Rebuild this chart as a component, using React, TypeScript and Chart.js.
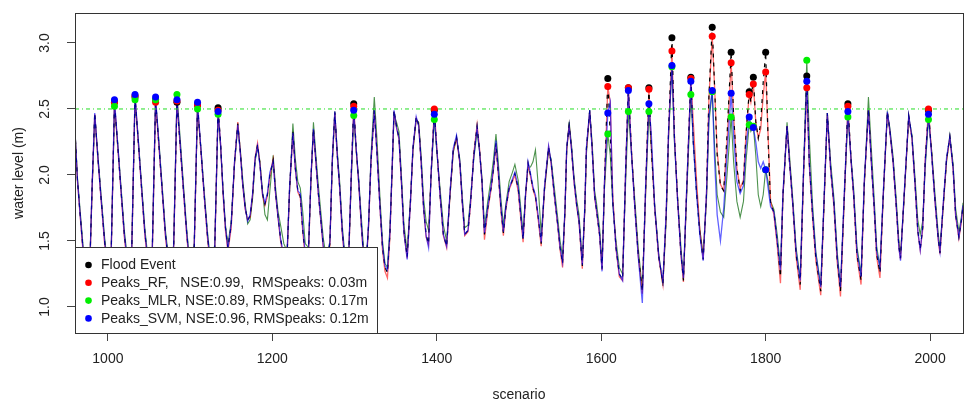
import React, { useEffect, useRef } from "react";
import { Chart, registerables } from "chart.js";

Chart.register(...registerables);

// ---------------- data ----------------
const scenario = [
  960, 963, 966, 970, 974, 978, 981, 984,
  988, 992, 996, 1000, 1004, 1008,
  1012, 1016, 1020, 1025, 1029, 1033,
  1037, 1041, 1045, 1050, 1054, 1058,
  1062, 1066, 1070, 1075, 1080, 1084,
  1088, 1092, 1096, 1100, 1105, 1109,
  1113, 1117, 1121, 1125, 1130, 1134,
  1137, 1140, 1143, 1146, 1150, 1154, 1158,
  1161, 1164, 1167, 1170, 1173, 1176, 1179, 1182,
  1185, 1188, 1191, 1194, 1197, 1201,
  1204, 1207, 1210, 1214, 1218, 1221, 1225,
  1228, 1231, 1234, 1237, 1240, 1244, 1247, 1250,
  1253, 1256, 1259, 1262, 1266, 1270, 1273, 1276,
  1279, 1282, 1285, 1289, 1293, 1296, 1299,
  1302, 1305, 1308, 1311, 1314, 1317, 1320, 1324,
  1327, 1331, 1334, 1337, 1340, 1343, 1346, 1348,
  1351, 1354, 1357, 1360, 1364, 1368, 1371, 1375,
  1378, 1381, 1384, 1387, 1390, 1393, 1397,
  1400, 1404, 1408, 1412, 1416, 1420, 1424,
  1428, 1431, 1434, 1438, 1441, 1445, 1449,
  1452, 1455, 1458, 1462, 1466, 1469, 1472,
  1475, 1478, 1481, 1484, 1488, 1492, 1495,
  1499, 1502, 1505, 1508, 1511,
  1514, 1517, 1520, 1523, 1527, 1531, 1536,
  1539, 1543, 1547, 1550, 1553, 1556, 1558, 1561,
  1564, 1567, 1570, 1573, 1577, 1580, 1582, 1586,
  1589, 1592, 1594, 1598, 1601, 1604, 1608,
  1611, 1614, 1618, 1622, 1626, 1630, 1633,
  1637, 1641, 1645, 1650, 1654, 1658,
  1661, 1665, 1670, 1675, 1679, 1682, 1686,
  1689, 1693, 1697, 1700, 1704, 1709,
  1712, 1716, 1720, 1724, 1728, 1731, 1735,
  1738, 1741, 1745, 1749, 1753, 1758,
  1761, 1765, 1769, 1773, 1776, 1780, 1782, 1785,
  1788, 1791, 1794, 1797, 1800,
  1803, 1806, 1810, 1814, 1818, 1821, 1826,
  1829, 1833, 1837, 1842, 1846, 1850,
  1853, 1857, 1861, 1867, 1871, 1875,
  1879, 1883, 1887, 1891, 1896, 1900,
  1904, 1907, 1911, 1916, 1920, 1925,
  1929, 1932, 1935, 1939, 1943, 1948,
  1951, 1955, 1959, 1962, 1964, 1968, 1974,
  1978, 1982, 1985, 1988, 1991, 1994, 1998,
  2002, 2006, 2010, 2012, 2016, 2020, 2024,
  2028, 2031, 2035, 2038, 2040,
];

const observed = [
  2.33, 1.96, 1.72, 1.42, 1.22, 1.30, 1.95, 2.47,
  2.12, 1.80, 1.50, 1.25, 1.40, 2.55,
  2.22, 1.88, 1.55, 1.26, 1.42, 2.59,
  2.25, 1.90, 1.56, 1.27, 1.42, 2.57,
  2.23, 1.89, 1.55, 1.27, 1.45, 2.55,
  2.22, 1.88, 1.55, 1.28, 1.45, 2.53,
  2.20, 1.86, 1.55, 1.30, 1.45, 2.51,
  2.25, 1.88, 1.60, 1.45, 1.62, 2.10, 2.39,
  2.18, 1.93, 1.75, 1.66, 1.69, 1.85, 2.12, 2.23,
  2.08, 1.86, 1.78, 1.85, 2.00, 2.11,
  1.86, 1.68, 1.52, 1.38, 1.40, 1.90, 2.33,
  2.05, 1.88, 1.84, 1.58, 1.40, 1.42, 1.98, 2.35,
  2.10, 1.86, 1.66, 1.46, 1.32, 1.48, 2.12, 2.48,
  2.15, 1.90, 1.58, 1.30, 1.40, 2.00, 2.54,
  2.20, 1.95, 1.65, 1.38, 1.30, 1.62, 2.10, 2.49,
  2.20, 1.75, 1.45, 1.30, 1.26, 1.55, 2.10, 2.49,
  2.37, 2.28, 1.95, 1.58, 1.38, 1.80, 2.20, 2.44,
  2.38, 2.10, 1.75, 1.55, 1.48, 2.00, 2.49,
  2.20, 1.85, 1.55, 1.46, 1.85, 2.19, 2.29,
  2.10, 1.80, 1.55, 1.58, 1.78, 2.15, 2.37,
  2.19, 1.95, 1.55, 1.75, 1.90, 2.05, 2.24,
  2.00, 1.75, 1.56, 1.75, 1.90, 1.96, 2.01,
  1.90, 1.70, 1.51, 1.85, 2.09,
  2.00, 1.90, 1.84, 1.70, 1.48, 1.90, 2.21,
  2.10, 1.85, 1.63, 1.45, 1.33, 1.75, 2.20, 2.38,
  2.19, 1.95, 1.78, 1.65, 1.31, 1.75, 2.20, 2.49,
  2.20, 1.84, 1.75, 1.55, 1.29, 1.95, 2.73,
  2.30, 1.80, 1.45, 1.25, 1.21, 2.10, 2.66,
  2.15, 1.75, 1.40, 1.12, 1.90, 2.66,
  2.20, 1.75, 1.38, 1.18, 1.70, 2.35, 3.04,
  2.30, 1.80, 1.40, 1.20, 1.90, 2.74,
  2.25, 1.86, 1.55, 1.36, 1.85, 2.60, 3.12,
  2.65, 2.15, 1.92, 1.88, 2.30, 2.93,
  2.45, 2.05, 1.88, 1.95, 2.30, 2.63, 2.55, 2.74,
  2.40, 2.28, 2.40, 2.70, 2.93,
  2.25, 1.78, 1.72, 1.50, 1.23, 1.85, 2.37,
  2.10, 1.78, 1.40, 1.17, 2.00, 2.75,
  2.10, 1.70, 1.37, 1.12, 1.80, 2.47,
  2.05, 1.78, 1.36, 1.12, 1.90, 2.54,
  2.10, 1.85, 1.40, 1.20, 1.95, 2.50,
  2.05, 1.75, 1.40, 1.26, 1.85, 2.48,
  2.34, 2.10, 1.75, 1.46, 1.37, 1.80, 2.45,
  2.28, 1.90, 1.58, 1.44, 1.60, 2.10, 2.49,
  2.15, 1.80, 1.51, 1.41, 1.78, 2.12, 2.29,
  2.05, 1.70, 1.53, 1.65, 1.77,
];

const predRF = [
  2.32, 1.95, 1.71, 1.40, 1.20, 1.29, 1.94, 2.46,
  2.11, 1.79, 1.48, 1.23, 1.39, 2.55,
  2.21, 1.87, 1.53, 1.24, 1.41, 2.60,
  2.24, 1.89, 1.54, 1.25, 1.41, 2.55,
  2.22, 1.88, 1.53, 1.25, 1.44, 2.56,
  2.21, 1.87, 1.53, 1.26, 1.44, 2.53,
  2.19, 1.85, 1.53, 1.28, 1.44, 2.49,
  2.24, 1.86, 1.58, 1.42, 1.60, 2.09, 2.40,
  2.18, 1.92, 1.74, 1.66, 1.68, 1.85, 2.13, 2.24,
  2.08, 1.85, 1.77, 1.84, 1.99, 2.12,
  1.85, 1.67, 1.50, 1.36, 1.39, 1.89, 2.31,
  2.04, 1.87, 1.83, 1.57, 1.38, 1.41, 1.97, 2.34,
  2.09, 1.85, 1.65, 1.44, 1.30, 1.47, 2.11, 2.47,
  2.14, 1.89, 1.56, 1.28, 1.39, 1.99, 2.52,
  2.19, 1.94, 1.63, 1.36, 1.28, 1.61, 2.09, 2.48,
  2.20, 1.74, 1.43, 1.27, 1.22, 1.53, 2.09, 2.48,
  2.36, 2.27, 1.94, 1.56, 1.37, 1.79, 2.19, 2.43,
  2.38, 2.09, 1.74, 1.53, 1.47, 1.99, 2.50,
  2.21, 1.84, 1.54, 1.45, 1.84, 2.18, 2.28,
  2.09, 1.79, 1.54, 1.57, 1.77, 2.16, 2.38,
  2.20, 1.94, 1.51, 1.73, 1.89, 2.04, 2.23,
  1.99, 1.73, 1.54, 1.74, 1.89, 1.95, 2.00,
  1.88, 1.68, 1.49, 1.84, 2.08,
  1.99, 1.89, 1.83, 1.68, 1.46, 1.89, 2.21,
  2.09, 1.84, 1.62, 1.43, 1.30, 1.74, 2.19, 2.38,
  2.18, 1.94, 1.77, 1.64, 1.29, 1.74, 2.19, 2.48,
  2.20, 1.83, 1.74, 1.54, 1.28, 1.94, 2.67,
  2.55, 1.85, 1.44, 1.23, 1.20, 2.10, 2.66,
  2.16, 1.74, 1.39, 1.10, 1.88, 2.65,
  2.22, 1.75, 1.37, 1.17, 1.70, 2.33, 2.94,
  2.30, 1.80, 1.39, 1.19, 1.90, 2.73,
  2.40, 1.95, 1.58, 1.36, 1.85, 2.58, 3.05,
  2.65, 2.18, 1.93, 1.88, 2.25, 2.85,
  2.45, 2.05, 1.90, 1.96, 2.30, 2.61, 2.55, 2.69,
  2.40, 2.28, 2.35, 2.60, 2.78,
  2.30, 1.80, 1.70, 1.47, 1.18, 1.84, 2.37,
  2.10, 1.77, 1.38, 1.13, 1.98, 2.66,
  2.08, 1.68, 1.35, 1.09, 1.78, 2.46,
  2.04, 1.76, 1.34, 1.08, 1.88, 2.52,
  2.09, 1.84, 1.38, 1.17, 1.94, 2.49,
  2.04, 1.74, 1.38, 1.22, 1.84, 2.47,
  2.33, 2.09, 1.74, 1.45, 1.36, 1.79, 2.44,
  2.27, 1.89, 1.57, 1.43, 1.59, 2.11, 2.50,
  2.15, 1.79, 1.50, 1.40, 1.77, 2.11, 2.28,
  2.04, 1.69, 1.52, 1.64, 1.76,
];

const predMLR = [
  2.34, 1.98, 1.75, 1.45, 1.25, 1.33, 1.92, 2.45,
  2.14, 1.83, 1.53, 1.28, 1.42, 2.52,
  2.24, 1.91, 1.58, 1.29, 1.44, 2.57,
  2.27, 1.93, 1.59, 1.30, 1.44, 2.57,
  2.26, 1.92, 1.58, 1.30, 1.47, 2.61,
  2.27, 1.92, 1.58, 1.31, 1.47, 2.50,
  2.22, 1.89, 1.58, 1.33, 1.47, 2.46,
  2.22, 1.90, 1.62, 1.47, 1.65, 2.08, 2.37,
  2.20, 1.97, 1.78, 1.63, 1.66, 1.82, 2.10, 2.21,
  2.10, 1.88, 1.70, 1.66, 1.88, 2.15,
  1.90, 1.72, 1.62, 1.48, 1.42, 1.88, 2.39,
  2.12, 1.95, 1.90, 1.72, 1.48, 1.45, 1.96, 2.40,
  2.15, 1.92, 1.72, 1.52, 1.36, 1.50, 2.10, 2.47,
  2.18, 1.94, 1.62, 1.34, 1.42, 1.95, 2.45,
  2.18, 1.98, 1.70, 1.44, 1.34, 1.60, 2.15, 2.59,
  2.30, 1.82, 1.50, 1.33, 1.30, 1.60, 2.08, 2.46,
  2.40, 2.33, 2.00, 1.63, 1.42, 1.82, 2.18, 2.42,
  2.40, 2.15, 1.82, 1.65, 1.58, 1.98, 2.42,
  2.18, 1.90, 1.62, 1.50, 1.83, 2.17, 2.28,
  2.12, 1.84, 1.60, 1.62, 1.82, 2.12, 2.33,
  2.18, 1.98, 1.60, 1.80, 1.97, 2.12, 2.31,
  2.08, 1.82, 1.62, 1.78, 1.95, 2.02, 2.08,
  1.96, 1.76, 1.56, 1.86, 2.06,
  2.06, 2.10, 2.19, 1.95, 1.55, 1.88, 2.19,
  2.12, 1.90, 1.68, 1.50, 1.38, 1.73, 2.18, 2.40,
  2.22, 1.98, 1.82, 1.70, 1.35, 1.72, 2.16, 2.49,
  2.24, 1.88, 1.80, 1.60, 1.33, 1.90, 2.31,
  2.15, 1.78, 1.50, 1.30, 1.25, 2.00, 2.48,
  2.15, 1.80, 1.45, 1.13, 1.85, 2.48,
  2.20, 1.78, 1.40, 1.16, 1.65, 2.30, 2.82,
  2.25, 1.82, 1.45, 1.22, 1.85, 2.61,
  2.25, 1.88, 1.58, 1.40, 1.80, 2.40, 2.63,
  2.20, 1.85, 1.72, 1.68, 2.00, 2.44,
  2.10, 1.80, 1.68, 1.80, 2.10, 2.38, 2.33, 2.37,
  2.15, 1.85, 1.76, 1.85, 2.04,
  1.95, 1.80, 1.74, 1.55, 1.30, 1.82, 2.40,
  2.15, 1.82, 1.45, 1.22, 2.00, 2.87,
  2.30, 1.78, 1.42, 1.16, 1.78, 2.47,
  2.10, 1.83, 1.42, 1.15, 1.88, 2.44,
  2.12, 1.90, 1.46, 1.25, 1.92, 2.59,
  2.15, 1.82, 1.46, 1.30, 1.83, 2.47,
  2.36, 2.14, 1.80, 1.50, 1.40, 1.78, 2.44,
  2.30, 1.95, 1.66, 1.55, 1.65, 2.05, 2.42,
  2.18, 1.85, 1.55, 1.45, 1.76, 2.10, 2.30,
  2.08, 1.75, 1.57, 1.68, 1.79,
];

const predSVM = [
  2.33, 1.96, 1.72, 1.42, 1.23, 1.31, 1.96, 2.47,
  2.12, 1.80, 1.50, 1.26, 1.41, 2.57,
  2.23, 1.88, 1.55, 1.27, 1.43, 2.61,
  2.26, 1.90, 1.56, 1.28, 1.43, 2.59,
  2.24, 1.89, 1.55, 1.28, 1.46, 2.57,
  2.23, 1.88, 1.55, 1.29, 1.46, 2.55,
  2.21, 1.86, 1.55, 1.31, 1.46, 2.48,
  2.24, 1.88, 1.60, 1.44, 1.63, 2.10, 2.38,
  2.17, 1.93, 1.75, 1.65, 1.70, 1.86, 2.12, 2.22,
  2.07, 1.86, 1.79, 1.86, 2.02, 2.10,
  1.86, 1.68, 1.52, 1.38, 1.41, 1.91, 2.32,
  2.05, 1.88, 1.86, 1.60, 1.41, 1.43, 1.99, 2.35,
  2.10, 1.86, 1.66, 1.46, 1.33, 1.49, 2.13, 2.48,
  2.15, 1.90, 1.58, 1.31, 1.41, 2.01, 2.49,
  2.20, 1.95, 1.65, 1.38, 1.31, 1.63, 2.11, 2.49,
  2.19, 1.75, 1.46, 1.31, 1.28, 1.56, 2.12, 2.49,
  2.36, 2.28, 1.95, 1.57, 1.36, 1.80, 2.21, 2.44,
  2.37, 2.10, 1.75, 1.54, 1.45, 2.00, 2.46,
  2.20, 1.85, 1.55, 1.46, 1.86, 2.20, 2.30,
  2.10, 1.80, 1.55, 1.58, 1.79, 2.14, 2.36,
  2.18, 1.95, 1.56, 1.76, 1.91, 2.06, 2.26,
  2.02, 1.76, 1.57, 1.76, 1.90, 1.97, 2.02,
  1.91, 1.71, 1.52, 1.86, 2.10,
  2.01, 1.91, 1.85, 1.71, 1.49, 1.91, 2.22,
  2.10, 1.85, 1.63, 1.45, 1.34, 1.76, 2.21, 2.37,
  2.19, 1.95, 1.78, 1.65, 1.32, 1.76, 2.21, 2.49,
  2.19, 1.84, 1.75, 1.55, 1.27, 1.96, 2.47,
  2.55, 1.80, 1.45, 1.25, 1.20, 2.10, 2.64,
  2.14, 1.74, 1.38, 1.03, 1.92, 2.54,
  2.30, 1.76, 1.38, 1.19, 1.72, 2.35, 2.83,
  2.28, 1.79, 1.40, 1.22, 1.91, 2.71,
  2.24, 1.85, 1.54, 1.35, 1.86, 2.45, 2.64,
  2.10, 1.70, 1.50, 1.75, 2.15, 2.62,
  2.30, 1.95, 1.86, 1.92, 2.20, 2.44, 2.38, 2.36,
  2.25, 2.10, 2.05, 2.10, 2.04,
  1.90, 1.76, 1.72, 1.50, 1.28, 1.86, 2.37,
  2.10, 1.78, 1.42, 1.20, 2.02, 2.71,
  2.10, 1.72, 1.40, 1.15, 1.82, 2.47,
  2.05, 1.79, 1.38, 1.15, 1.92, 2.48,
  2.10, 1.86, 1.42, 1.23, 1.97, 2.49,
  2.05, 1.76, 1.42, 1.30, 1.86, 2.48,
  2.34, 2.10, 1.75, 1.45, 1.35, 1.81, 2.45,
  2.28, 1.90, 1.58, 1.43, 1.61, 2.09, 2.46,
  2.14, 1.80, 1.51, 1.42, 1.79, 2.13, 2.29,
  2.05, 1.70, 1.53, 1.66, 1.77,
];

// flood events (observed peaks above threshold) and model peaks at those events
const floodX = [1008, 1033, 1058, 1084, 1109, 1134, 1299, 1397, 1608, 1633, 1658,
  1686, 1709, 1735, 1758, 1780, 1785, 1800, 1850, 1900, 1998];
const floodObs = [2.55, 2.59, 2.57, 2.55, 2.53, 2.51, 2.54, 2.49, 2.73, 2.66, 2.66,
  3.04, 2.74, 3.12, 2.93, 2.63, 2.74, 2.93, 2.75, 2.54, 2.49];
const peaksRF = [2.55, 2.60, 2.55, 2.56, 2.53, 2.49, 2.52, 2.50, 2.67, 2.66, 2.65,
  2.94, 2.73, 3.05, 2.85, 2.61, 2.69, 2.78, 2.66, 2.52, 2.50];
const peaksMLR = [2.52, 2.57, 2.57, 2.61, 2.50, 2.46, 2.45, 2.42, 2.31, 2.48, 2.48,
  2.82, 2.61, 2.63, 2.44, 2.38, 2.37, 2.04, 2.87, 2.44, 2.42];
const peaksSVM = [2.57, 2.61, 2.59, 2.57, 2.55, 2.48, 2.49, 2.46, 2.47, 2.64, 2.54,
  2.83, 2.71, 2.64, 2.62, 2.44, 2.36, 2.04, 2.71, 2.48, 2.46];

const thresholdLevel = 2.5;
const xTicks = [1000, 1200, 1400, 1600, 1800, 2000];
const yTicks = [1.0, 1.5, 2.0, 2.5, 3.0];
const legendLabels = [
  "Flood Event",
  "Peaks_RF,   NSE:0.99,  RMSpeaks: 0.03m",
  "Peaks_MLR, NSE:0.89, RMSpeaks: 0.17m",
  "Peaks_SVM, NSE:0.96, RMSpeaks: 0.12m",
];
const legendColors = ["#000000", "#ff0000", "#00ee00", "#0000ff"];

// ---------------- helpers ----------------
const FONT = '"Liberation Sans", Arial, sans-serif';
const xy = (xs: number[], ys: number[]) => {
  const n = Math.min(xs.length, ys.length);
  const out: { x: number; y: number }[] = [];
  for (let i = 0; i < n; i++) out.push({ x: xs[i], y: ys[i] });
  return out;
};

const framePlugin = {
  id: "rFrameLegend",
  afterDraw(chart: any) {
    const { ctx, chartArea: ca } = chart;
    ctx.save();
    // legend box
    const W = 302, H = 86;
    const L = ca.left, T = ca.bottom - H;
    ctx.fillStyle = "#ffffff";
    ctx.fillRect(L, T, W, H);
    ctx.strokeStyle = "#333333";
    ctx.lineWidth = 1;
    ctx.strokeRect(L + 0.5, T + 0.5, W, H);
    ctx.font = `14px ${FONT}`;
    ctx.textBaseline = "middle";
    ctx.textAlign = "left";
    legendLabels.forEach((lab, i) => {
      const y = T + 18 + i * 17.8;
      ctx.beginPath();
      ctx.fillStyle = legendColors[i];
      ctx.arc(L + 13.5, y, 3.3, 0, Math.PI * 2);
      ctx.fill();
      ctx.fillStyle = "#222222";
      ctx.fillText(lab, L + 26, y + 0.5);
    });
    // plot frame
    ctx.strokeStyle = "#333333";
    ctx.strokeRect(ca.left + 0.5, ca.top + 0.5, ca.right - ca.left, ca.bottom - ca.top);
    ctx.restore();
  },
};

export default function App() {
  const canvasRef = useRef<HTMLCanvasElement | null>(null);

  useEffect(() => {
    const canvas = canvasRef.current;
    if (!canvas) return;
    const lineBase = { pointRadius: 0, pointHoverRadius: 0, tension: 0, fill: false, showLine: true };
    const pointBase = { showLine: false, pointRadius: 3.5, pointHoverRadius: 3.5, pointBorderWidth: 0 };
    const chart = new Chart(canvas, {
      type: "line",
      data: {
        datasets: [
          { ...pointBase, label: "svmPk", data: xy(floodX, peaksSVM), pointBackgroundColor: "#0000ff", borderColor: "#0000ff", backgroundColor: "#0000ff" },
          { ...pointBase, label: "mlrPk", data: xy(floodX, peaksMLR), pointBackgroundColor: "#00ee00", borderColor: "#00ee00", backgroundColor: "#00ee00" },
          { ...pointBase, label: "rfPk", data: xy(floodX, peaksRF), pointBackgroundColor: "#ff0000", borderColor: "#ff0000", backgroundColor: "#ff0000" },
          { ...pointBase, label: "flood", data: xy(floodX, floodObs), pointBackgroundColor: "#000000", borderColor: "#000000", backgroundColor: "#000000" },
          { ...lineBase, label: "threshold", data: [{ x: 960, y: thresholdLevel }, { x: 2040, y: thresholdLevel }], borderColor: "#22dd22", borderWidth: 1, borderDash: [4, 3, 1, 3] },
          { ...lineBase, label: "SVM", data: xy(scenario, predSVM), borderColor: "rgba(0,0,255,0.62)", borderWidth: 1.3 },
          { ...lineBase, label: "observed", data: xy(scenario, observed), borderColor: "#000000", borderWidth: 1.2, borderDash: [4, 5] },
          { ...lineBase, label: "RF", data: xy(scenario, predRF), borderColor: "rgba(255,0,0,0.6)", borderWidth: 1.3 },
          { ...lineBase, label: "MLR", data: xy(scenario, predMLR), borderColor: "rgba(0,100,0,0.7)", borderWidth: 1.1 },
        ],
      },
      options: {
        responsive: false,
        animation: false,
        devicePixelRatio: 1,
        parsing: false,
        layout: { padding: { top: 13, right: 7, left: 0, bottom: 0 } },
        plugins: { legend: { display: false }, tooltip: { enabled: false } },
        events: [],
        scales: {
          x: {
            type: "linear",
            min: 960,
            max: 2040,
            afterBuildTicks: (s: any) => { s.ticks = xTicks.map((v) => ({ value: v })); },
            afterFit: (s: any) => { s.height = 77; s.paddingLeft = 0; s.paddingRight = 0; },
            ticks: { autoSkip: false, maxRotation: 0, minRotation: 0, padding: 10, color: "#222", font: { family: FONT, size: 14 }, callback: (v: any) => String(v) },
            grid: { display: true, drawOnChartArea: false, drawTicks: true, tickLength: 8, color: "#444", lineWidth: 1 },
            border: { display: false },
            title: { display: true, text: "scenario", color: "#222", font: { family: FONT, size: 14 }, padding: { top: 0, bottom: 6.6 } },
          },
          y: {
            type: "linear",
            min: 0.803,
            max: 3.227,
            afterBuildTicks: (s: any) => { s.ticks = yTicks.map((v) => ({ value: v })); },
            afterFit: (s: any) => { s.width = 75; s.paddingTop = 0; s.paddingBottom = 0; },
            ticks: { autoSkip: false, minRotation: 90, maxRotation: 90, crossAlign: "center", padding: 12, color: "#222", font: { family: FONT, size: 14 }, callback: (v: any) => Number(v).toFixed(1) },
            grid: { display: true, drawOnChartArea: false, drawTicks: true, tickLength: 8, color: "#444", lineWidth: 1 },
            border: { display: false },
            title: { display: true, text: "water level (m)", color: "#222", font: { family: FONT, size: 14 }, padding: { top: 10.6, bottom: 0 } },
          },
        },
      },
      plugins: [framePlugin],
    } as any);
    return () => chart.destroy();
  }, []);

  return (
    <div style={{ position: "absolute", left: 0, top: 0, width: 970, height: 410, background: "#fff" }}>
      <canvas ref={canvasRef} width={970} height={410} style={{ display: "block", width: 970, height: 410 }} />
    </div>
  );
}
